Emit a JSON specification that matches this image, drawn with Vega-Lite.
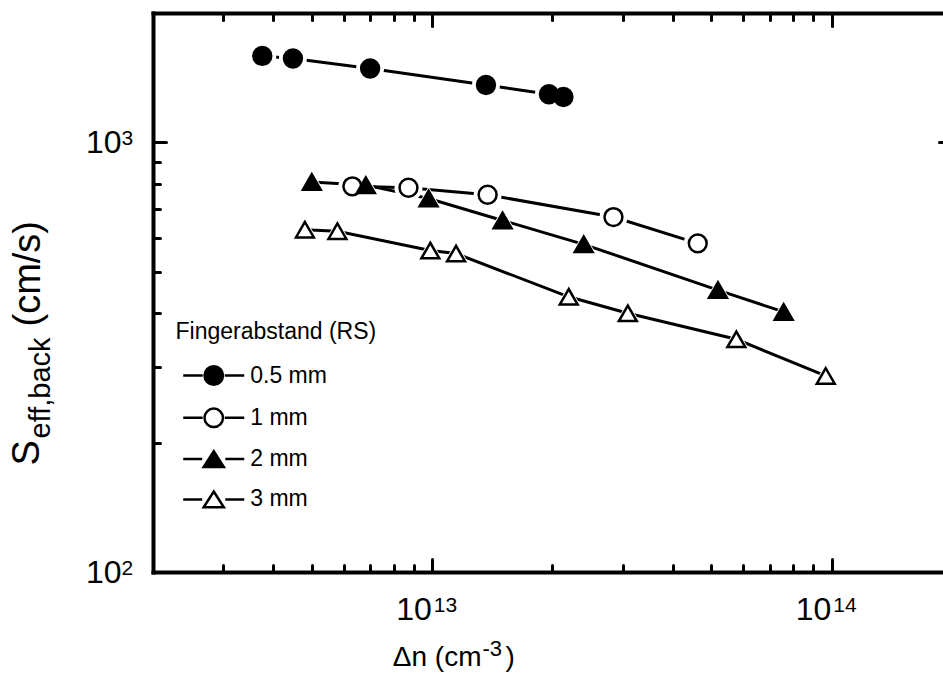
{
  "$schema": "https://vega.github.io/schema/vega-lite/v6.json",
  "autosize": {"type": "none"},
  "padding": {"left": 153, "top": 13, "right": 0, "bottom": 121},
  "width": 790,
  "height": 559,
  "background": "white",
  "config": {
    "view": {"stroke": null},
    "font": "Liberation Sans",
    "axis": {
      "domainColor": "black",
      "domainWidth": 4,
      "domainCap": "square",
      "tickColor": "black",
      "tickWidth": 3,
      "tickCap": "round",
      "grid": false,
      "labelColor": "black",
      "titleColor": "black",
      "titleFontWeight": "normal",
      "labelOverlap": false,
      "labelFlush": false,
      "labelLimit": 0,
      "titleLimit": 0
    }
  },
  "data": {
    "values": [
      {"rs": "0.5 mm", "dn": 3.755e12, "s": 1589},
      {"rs": "0.5 mm", "dn": 4.48e12, "s": 1567},
      {"rs": "0.5 mm", "dn": 6.99e12, "s": 1485},
      {"rs": "0.5 mm", "dn": 1.363e13, "s": 1360},
      {"rs": "0.5 mm", "dn": 1.959e13, "s": 1294},
      {"rs": "0.5 mm", "dn": 2.13e13, "s": 1275},
      {"rs": "1 mm", "dn": 6.31e12, "s": 790},
      {"rs": "1 mm", "dn": 8.72e12, "s": 784},
      {"rs": "1 mm", "dn": 1.376e13, "s": 755},
      {"rs": "1 mm", "dn": 2.842e13, "s": 670},
      {"rs": "1 mm", "dn": 4.62e13, "s": 582},
      {"rs": "2 mm", "dn": 4.995e12, "s": 809},
      {"rs": "2 mm", "dn": 6.82e12, "s": 795},
      {"rs": "2 mm", "dn": 9.79e12, "s": 740},
      {"rs": "2 mm", "dn": 1.5e13, "s": 658},
      {"rs": "2 mm", "dn": 2.394e13, "s": 579},
      {"rs": "2 mm", "dn": 5.19e13, "s": 453},
      {"rs": "2 mm", "dn": 7.58e13, "s": 403},
      {"rs": "3 mm", "dn": 4.8e12, "s": 626},
      {"rs": "3 mm", "dn": 5.79e12, "s": 621},
      {"rs": "3 mm", "dn": 9.89e12, "s": 560},
      {"rs": "3 mm", "dn": 1.147e13, "s": 551},
      {"rs": "3 mm", "dn": 2.196e13, "s": 437},
      {"rs": "3 mm", "dn": 3.087e13, "s": 400},
      {"rs": "3 mm", "dn": 5.77e13, "s": 348},
      {"rs": "3 mm", "dn": 9.66e13, "s": 286}
    ]
  },
  "layer": [
    {
      "mark": {"type": "line", "stroke": "black", "strokeWidth": 3},
      "encoding": {
        "x": {
          "field": "dn", "type": "quantitative",
          "scale": {"type": "log", "domain": [2e12, 2e14], "range": [0, 799], "nice": false},
          "axis": {
            "orient": "bottom",
            "values": [2e12, 3e12, 4e12, 5e12, 6e12, 7e12, 8e12, 9e12, 1e13, 2e13, 3e13, 4e13, 5e13, 6e13, 7e13, 8e13, 9e13, 1e14, 2e14],
            "tickSize": {"condition": {"test": "datum.value == 1e13 || datum.value == 1e14", "value": -13}, "value": -7},
            "labelExpr": "datum.value == 1e13 || datum.value == 1e14 ? '10' : ''",
            "labelFontSize": 32,
            "labelAlign": "right",
            "labelBaseline": "alphabetic",
            "labelPadding": 60,
            "labelOffset": -1,
            "title": "Δn (cm",
            "titleFontSize": 28,
            "titleX": 328,
            "titleY": 93,
            "titleAlign": "right",
            "titleBaseline": "alphabetic"
          }
        },
        "y": {
          "field": "s", "type": "quantitative",
          "scale": {"type": "log", "domain": [100, 2000], "nice": false},
          "axis": {
            "orient": "left",
            "values": [100, 200, 300, 400, 500, 600, 700, 800, 900, 1000, 2000],
            "tickSize": {"condition": {"test": "datum.value == 100 || datum.value == 1000", "value": -13}, "value": -7},
            "labelExpr": "datum.value == 1000 || datum.value == 100 ? '10' : ''",
            "labelFontSize": 32,
            "labelAlign": "right",
            "labelBaseline": "middle",
            "labelPadding": 45,
            "title": "S",
            "titleFontSize": 38,
            "titleAngle": 270,
            "titleX": -115,
            "titleY": 452,
            "titleAlign": "left",
            "titleBaseline": "alphabetic"
          }
        },
        "detail": {"field": "rs"}
      }
    },
    {
      "mark": {"type": "point", "filled": true, "color": "white", "opacity": 1, "strokeWidth": 0},
      "encoding": {
        "x": {
          "field": "dn", "type": "quantitative",
          "scale": {"type": "log", "domain": [2e12, 2e14], "range": [0, 799], "nice": false},
          "axis": {
            "orient": "top",
            "values": [2e12, 3e12, 4e12, 5e12, 6e12, 7e12, 8e12, 9e12, 1e13, 2e13, 3e13, 4e13, 5e13, 6e13, 7e13, 8e13, 9e13, 1e14, 2e14],
            "tickSize": {"condition": {"test": "datum.value == 1e13 || datum.value == 1e14", "value": -13}, "value": -7},
            "labels": false,
            "title": ")",
            "titleFontSize": 28,
            "titleX": 352,
            "titleY": 652,
            "titleAlign": "left",
            "titleBaseline": "alphabetic"
          }
        },
        "y": {
          "field": "s", "type": "quantitative",
          "scale": {"type": "log", "domain": [100, 2000], "nice": false},
          "axis": {
            "orient": "right",
            "offset": 9,
            "values": [100, 200, 300, 400, 500, 600, 700, 800, 900, 1000, 2000],
            "tickSize": {"condition": {"test": "datum.value == 100 || datum.value == 1000", "value": -13}, "value": -7},
            "labels": false,
            "title": null
          }
        },
        "shape": {
          "field": "rs", "type": "nominal",
          "scale": {"domain": ["0.5 mm", "1 mm", "2 mm", "3 mm"], "range": ["circle", "circle", "triangle-up", "triangle-up"]},
          "legend": null
        },
        "size": {
          "field": "rs", "type": "ordinal",
          "scale": {"domain": ["0.5 mm", "1 mm", "2 mm", "3 mm"], "range": [780, 780, 1250, 1250]},
          "legend": null
        }
      }
    },
    {
      "mark": {"type": "point", "filled": false, "stroke": "black", "strokeWidth": 2.5, "opacity": 1},
      "encoding": {
        "x": {
          "field": "dn", "type": "quantitative",
          "scale": {"type": "log", "domain": [2e12, 2e14], "range": [0, 799], "nice": false},
          "axis": {
            "orient": "bottom",
            "values": [1e13, 1e14],
            "domain": false,
            "ticks": false,
            "labelExpr": "datum.value == 1e13 ? '13' : '14'",
            "labelFontSize": 21,
            "labelAlign": "left",
            "labelBaseline": "alphabetic",
            "labelPadding": 39,
            "labelOffset": 1,
            "title": "-3",
            "titleFontSize": 22,
            "titleX": 329,
            "titleY": 83,
            "titleAlign": "left",
            "titleBaseline": "alphabetic"
          }
        },
        "y": {
          "field": "s", "type": "quantitative",
          "scale": {"type": "log", "domain": [100, 2000], "nice": false},
          "axis": {
            "orient": "left",
            "values": [100, 1000],
            "domain": false,
            "ticks": false,
            "labelExpr": "datum.value == 1000 ? '3' : '2'",
            "labelFontSize": 21,
            "labelAlign": "left",
            "labelBaseline": "alphabetic",
            "labelPadding": 32,
            "labelOffset": 2,
            "title": "eff,back",
            "titleFontSize": 29,
            "titleAngle": 270,
            "titleX": -104,
            "titleY": 425,
            "titleAlign": "left",
            "titleBaseline": "alphabetic"
          }
        },
        "shape": {
          "field": "rs", "type": "nominal",
          "scale": {"domain": ["0.5 mm", "1 mm", "2 mm", "3 mm"], "range": ["circle", "circle", "triangle-up", "triangle-up"]},
          "legend": null
        },
        "fill": {
          "field": "rs", "type": "nominal",
          "scale": {"domain": ["0.5 mm", "1 mm", "2 mm", "3 mm"], "range": ["black", "white", "black", "white"]},
          "legend": null
        },
        "size": {
          "field": "rs", "type": "ordinal",
          "scale": {"domain": ["0.5 mm", "1 mm", "2 mm", "3 mm"], "range": [320, 320, 460, 460]},
          "legend": null
        }
      }
    },
    {
      "mark": {"type": "point", "filled": false, "stroke": "black", "strokeWidth": 2.5, "opacity": 0},
      "encoding": {
        "x": {
          "field": "dn", "type": "quantitative",
          "scale": {"type": "log", "domain": [2e12, 2e14], "range": [0, 799], "nice": false},
          "axis": null
        },
        "y": {
          "field": "s", "type": "quantitative",
          "scale": {"type": "log", "domain": [100, 2000], "nice": false},
          "axis": {
            "orient": "left",
            "domain": false,
            "ticks": false,
            "labels": false,
            "title": "(cm/s)",
            "titleFontSize": 38,
            "titleAngle": 270,
            "titleX": -114,
            "titleY": 313,
            "titleAlign": "left",
            "titleBaseline": "alphabetic"
          }
        },
        "shape": {
          "field": "rs", "type": "nominal",
          "scale": {
            "domain": ["0.5 mm", "1 mm", "2 mm", "3 mm"],
            "range": [
              "M-3.3,0L-1.2,0M1.2,0L3.3,0M1,0C1,0.552,0.552,1,0,1C-0.552,1,-1,0.552,-1,0C-1,-0.552,-0.552,-1,0,-1C0.552,-1,1,-0.552,1,0ZM0.78,0C0.78,0.431,0.431,0.78,0,0.78C-0.431,0.78,-0.78,0.431,-0.78,0C-0.78,-0.431,-0.431,-0.78,0,-0.78C0.431,-0.78,0.78,-0.431,0.78,0ZM0.56,0C0.56,0.309,0.309,0.56,0,0.56C-0.309,0.56,-0.56,0.309,-0.56,0C-0.56,-0.309,-0.309,-0.56,0,-0.56C0.309,-0.56,0.56,-0.309,0.56,0ZM0.34,0C0.34,0.188,0.188,0.34,0,0.34C-0.188,0.34,-0.34,0.188,-0.34,0C-0.34,-0.188,-0.188,-0.34,0,-0.34C0.188,-0.34,0.34,-0.188,0.34,0ZM0.12,0C0.12,0.066,0.066,0.12,0,0.12C-0.066,0.12,-0.12,0.066,-0.12,0C-0.12,-0.066,-0.066,-0.12,0,-0.12C0.066,-0.12,0.12,-0.066,0.12,0Z",
              "M-3.3,0L-1.2,0M1.2,0L3.3,0M1,0C1,0.552,0.552,1,0,1C-0.552,1,-1,0.552,-1,0C-1,-0.552,-0.552,-1,0,-1C0.552,-1,1,-0.552,1,0Z",
              "M-3.3,0L-1.25,0M1.25,0L3.3,0M0,-0.85L1.09,0.85L-1.09,0.85ZM0,-0.408L0.654,0.612L-0.654,0.612ZM0,0.033L0.218,0.373L-0.218,0.373Z",
              "M-3.3,0L-1.25,0M1.25,0L3.3,0M0,-0.85L1.09,0.85L-1.09,0.85Z"
            ]
          },
          "legend": {
            "title": "Fingerabstand (RS)", "orient": "none", "legendX": 22.5, "legendY": 308, "padding": 0,
            "titleFontSize": 23, "titleFontWeight": "normal", "titleColor": "black", "titlePadding": 20, "titleLimit": 0,
            "labelFontSize": 23, "labelColor": "black", "labelLimit": 0, "symbolSize": 342, "symbolStrokeWidth": 2.5,
            "symbolStrokeColor": "black", "symbolFillColor": "white", "symbolOpacity": 1, "symbolOffset": 26.75, "labelOffset": 25, "rowPadding": 13.3
          }
        }
      }
    }
  ],
  "resolve": {
    "scale": {"shape": "independent", "fill": "independent", "size": "independent"},
    "axis": {"x": "independent", "y": "independent"}
  }
}
